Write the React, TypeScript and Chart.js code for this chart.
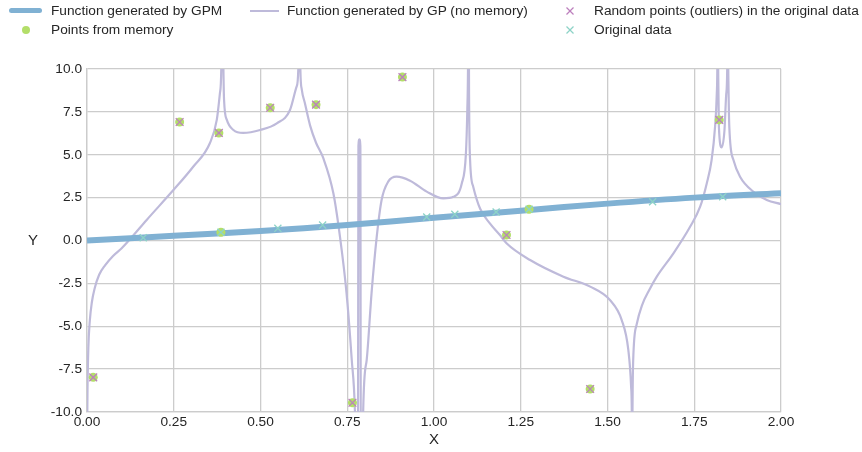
import React, { useEffect, useRef } from "react";
import { Chart, registerables } from "chart.js";

Chart.register(...registerables);

const FONT = '"Liberation Sans", Arial, Helvetica, sans-serif';
const TEXT = "#262626";
const GRID = "#cccccc";

const C_GPM = "#80b1d3";
const C_GP = "#bebada";
const C_MEM = "#b3de69";
const C_OUT = "#bc80bd";
const C_ORIG = "#8dd3c7";

// Function generated by GPM
const gpmX = [0, 0.25, 0.5, 0.75, 1.0, 1.25, 1.5, 1.75, 2.0];
const gpmY = [0, 0.27, 0.55, 0.9, 1.33, 1.74, 2.15, 2.5, 2.76];

// Function generated by GP (no memory)
const gpX = [
  0.0, 0.0015, 0.004, 0.008, 0.014, 0.022, 0.035, 0.052, 0.075, 0.1, 0.125, 0.172, 0.249, 0.306, 0.354, 0.374, 0.383, 0.387,
  0.3885, 0.391, 0.393, 0.395, 0.403, 0.422, 0.45, 0.499, 0.547, 0.585, 0.604, 0.609,
  0.6105, 0.6125, 0.615, 0.619, 0.628, 0.643, 0.66, 0.681, 0.71, 0.729, 0.748, 0.763, 0.772, 0.776,
  0.7808, 0.7822, 0.785, 0.7878, 0.7892, 0.793,
  0.7955, 0.796, 0.806, 0.82, 0.835, 0.849, 0.868, 0.892, 0.931, 0.979, 1.027, 1.056, 1.08, 1.092, 1.096, 1.098,
  1.099, 1.1, 1.101, 1.104, 1.113, 1.133, 1.161, 1.19, 1.209, 1.277, 1.373, 1.45, 1.507, 1.541, 1.56, 1.568, 1.57,
  1.571, 1.572, 1.574, 1.584, 1.6, 1.62, 1.642, 1.69, 1.738, 1.767, 1.786, 1.8, 1.81, 1.815, 1.8165,
  1.8175, 1.819, 1.821, 1.829, 1.837, 1.842, 1.845,
  1.846, 1.848, 1.851, 1.863, 1.882, 1.92, 1.959, 2.0,
];
const gpY = [
  -12, -8.6, -6.2, -4.7, -3.6, -2.8, -2.0, -1.45, -0.9, -0.45, 0.1, 1.2, 2.94, 4.3, 5.67, 7.03, 8.58, 10.04,
  14, 14, 10.2, 8.19, 7.03, 6.44, 6.27, 6.44, 6.83, 7.61, 8.97, 10.0,
  14, 14, 9.9, 8.8, 8.0, 6.7, 5.7, 4.8, 2.75, 0.22, -3.08, -6.97, -9.9, -14,
  -14, 5.5, 5.9, 5.5, -14, -14,
  -11, -9.88, -6.97, -3.08, 0.22, 2.36, 3.43, 3.72, 3.49, 2.85, 2.46, 2.55, 3.33, 5.08, 7.61, 10.04,
  14, 14, 8.58, 4.69, 3.14, 1.85, 1.0, 0.32, -0.16, -1.14, -2.11, -2.69, -3.47, -4.64, -6.38, -8.5, -10,
  -14, -10, -7.0, -4.9, -3.75, -2.9, -2.11, -0.75, 0.8, 1.97, 3.33, 4.69, 6.64, 8.58, 10.04,
  14, 10, 6.64, 5.43, 6.4, 8.5, 10,
  14, 10, 6.64, 4.69, 3.72, 2.85, 2.36, 2.12,
];

// Random points (outliers) in the original data
const outX = [0.018, 0.267, 0.38, 0.528, 0.66, 0.765, 0.909, 1.209, 1.45, 1.822];
const outY = [-7.98, 6.91, 6.27, 7.74, 7.92, -9.46, 9.53, 0.32, -8.66, 7.03];

// Points from memory
const memX = [0.018, 0.267, 0.38, 0.386, 0.528, 0.66, 0.765, 0.909, 1.209, 1.274, 1.45, 1.822];
const memY = [-7.98, 6.91, 6.27, 0.48, 7.74, 7.92, -9.46, 9.53, 0.32, 1.82, -8.66, 7.03];

// Original data
const origX = [0.162, 0.386, 0.55, 0.679, 0.979, 1.06, 1.179, 1.274, 1.63, 1.832];
const origY = [0.16, 0.48, 0.71, 0.9, 1.37, 1.53, 1.66, 1.82, 2.26, 2.55];

const legendLabels = [
  "Function generated by GPM",
  "Points from memory",
  "Function generated by GP (no memory)",
  "Random points (outliers) in the original data",
  "Original data",
];
const axisTitles = ["X", "Y"];

const zip = (xs: number[], ys: number[]) => xs.map((x, i) => ({ x, y: ys[i] }));

function XMark({ color, cx, cy }: { color: string; cx: number; cy: number }) {
  return (
    <svg width={10} height={10} style={{ position: "absolute", left: cx - 5, top: cy - 5 }}>
      <line x1={1.5} y1={1.5} x2={8.5} y2={8.5} stroke={color} strokeWidth={1.3} />
      <line x1={8.5} y1={1.5} x2={1.5} y2={8.5} stroke={color} strokeWidth={1.3} />
    </svg>
  );
}

export default function App() {
  const ref = useRef<HTMLCanvasElement>(null);

  useEffect(() => {
    document.body.style.margin = "0";
    const tickFont = { family: FONT, size: 13.7 };
    const titleFont = { family: FONT, size: 15 };
    const chart = new Chart(ref.current as HTMLCanvasElement, {
      type: "scatter",
      data: {
        datasets: [
          {
            label: legendLabels[3],
            data: zip(outX, outY),
            pointStyle: "crossRot",
            pointRadius: 5.5,
            borderColor: C_OUT,
            backgroundColor: C_OUT,
            borderWidth: 1.3,
            showLine: false,
            order: 0,
          },
          {
            label: legendLabels[4],
            data: zip(origX, origY),
            pointStyle: "crossRot",
            pointRadius: 5,
            borderColor: C_ORIG,
            backgroundColor: C_ORIG,
            borderWidth: 1.3,
            showLine: false,
            order: 1,
          },
          {
            label: legendLabels[1],
            data: zip(memX, memY),
            pointStyle: "circle",
            pointRadius: 4.5,
            borderWidth: 0,
            backgroundColor: C_MEM,
            borderColor: C_MEM,
            showLine: false,
            order: 2,
          },
          {
            label: legendLabels[0],
            data: zip(gpmX, gpmY),
            showLine: true,
            pointRadius: 0,
            borderColor: C_GPM,
            backgroundColor: C_GPM,
            borderWidth: 6,
            tension: 0.4,
            clip: 0,
            order: 3,
          },
          {
            label: legendLabels[2],
            data: zip(gpX, gpY),
            showLine: true,
            pointRadius: 0,
            borderColor: C_GP,
            backgroundColor: C_GP,
            borderWidth: 2.2,
            cubicInterpolationMode: "monotone",
            tension: 0.4,
            clip: 0,
            order: 4,
          },
        ],
      },
      options: {
        responsive: false,
        animation: false,
        devicePixelRatio: 1,
        layout: { padding: { top: 69, right: 81, left: 0, bottom: 0 } },
        plugins: { legend: { display: false }, tooltip: { enabled: false } },
        scales: {
          x: {
            type: "linear",
            min: 0,
            max: 2,
            afterFit: (s: any) => {
              s.height = 40;
            },
            ticks: {
              stepSize: 0.25,
              padding: 2,
              color: TEXT,
              font: tickFont,
              maxRotation: 0,
              callback: (v: any) => Number(v).toFixed(2),
            },
            grid: { color: GRID, lineWidth: 1.3, drawTicks: false },
            border: { display: true, color: GRID, width: 1.3 },
            title: {
              display: true,
              text: axisTitles[0],
              color: TEXT,
              font: titleFont,
              padding: { top: 0, bottom: 3 },
            },
          },
          y: {
            type: "linear",
            min: -10,
            max: 10,
            afterFit: (s: any) => {
              s.width = 87;
            },
            ticks: {
              stepSize: 2.5,
              padding: 5,
              color: TEXT,
              font: tickFont,
              callback: (v: any) => Number(v).toFixed(1),
            },
            grid: { color: GRID, lineWidth: 1.3, drawTicks: false },
            border: { display: true, color: GRID, width: 1.3 },
            title: { display: false },
          },
        },
      },
    } as any);
    return () => chart.destroy();
  }, []);

  const textStyle: React.CSSProperties = {
    position: "absolute",
    fontFamily: FONT,
    fontSize: "13.7px",
    lineHeight: "16px",
    color: TEXT,
    whiteSpace: "nowrap",
  };
  const r1 = 10.7;
  const r2 = 30;

  return (
    <div style={{ position: "relative", width: 862, height: 452, background: "#fff", overflow: "hidden" }}>
      <canvas ref={ref} width={862} height={452} style={{ position: "absolute", left: 0, top: 0 }} />
      {/* y axis title */}
      <div
        style={{
          position: "absolute",
          left: 27,
          top: 231,
          width: 12,
          textAlign: "center",
          fontFamily: FONT,
          fontSize: "15px",
          lineHeight: "18px",
          color: TEXT,
        }}
      >
        {axisTitles[1]}
      </div>
      {/* legend column 1 */}
      <div
        style={{
          position: "absolute",
          left: 9,
          top: r1 - 2.7,
          width: 33,
          height: 5.4,
          borderRadius: 2.7,
          background: C_GPM,
        }}
      />
      <div style={{ ...textStyle, left: 51, top: r1 - 8 }}>{legendLabels[0]}</div>
      <div
        style={{
          position: "absolute",
          left: 25.5 - 4,
          top: r2 - 4,
          width: 8,
          height: 8,
          borderRadius: 4,
          background: C_MEM,
        }}
      />
      <div style={{ ...textStyle, left: 51, top: r2 - 8 }}>{legendLabels[1]}</div>
      {/* legend column 2 */}
      <div
        style={{
          position: "absolute",
          left: 250,
          top: r1 - 1.1,
          width: 29,
          height: 2.2,
          background: C_GP,
        }}
      />
      <div style={{ ...textStyle, left: 287, top: r1 - 8 }}>{legendLabels[2]}</div>
      {/* legend column 3 */}
      <XMark color={C_OUT} cx={569.5} cy={r1} />
      <div style={{ ...textStyle, left: 594, top: r1 - 8 }}>{legendLabels[3]}</div>
      <XMark color={C_ORIG} cx={569.5} cy={r2} />
      <div style={{ ...textStyle, left: 594, top: r2 - 8 }}>{legendLabels[4]}</div>
    </div>
  );
}
